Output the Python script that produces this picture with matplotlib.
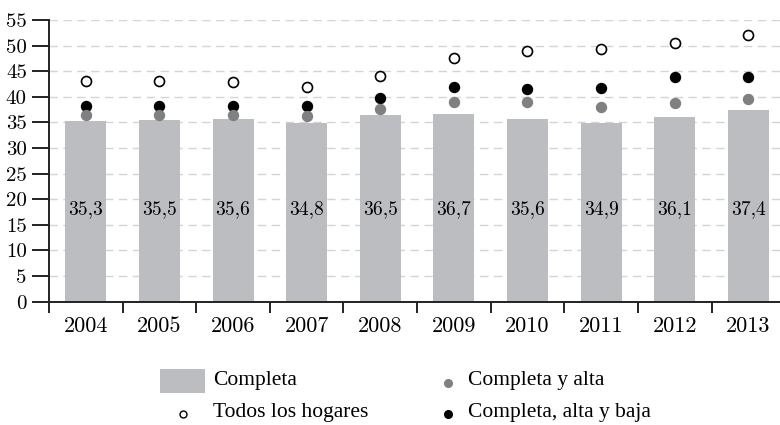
import matplotlib
matplotlib.use("Agg")
import matplotlib.pyplot as plt
from matplotlib.patches import Rectangle
from matplotlib.lines import Line2D

# --- data ---
years = ["2004", "2005", "2006", "2007", "2008", "2009", "2010", "2011", "2012", "2013"]
completa = [35.3, 35.5, 35.6, 34.8, 36.5, 36.7, 35.6, 34.9, 36.1, 37.4]
completa_alta = [36.4, 36.4, 36.4, 36.3, 37.6, 39.0, 38.9, 38.1, 38.7, 39.5]
completa_alta_baja = [38.2, 38.2, 38.2, 38.3, 39.7, 42.0, 41.5, 41.7, 43.9, 43.8]
todos_hogares = [43.1, 43.0, 42.9, 41.9, 44.0, 47.6, 48.9, 49.4, 50.6, 52.0]
yticks = list(range(0, 60, 5))

bar_color = "#bcbdc0"
dot_gray = "#808080"
tick_font = "cmr10"
legend_font = "Liberation Serif"

W, H = 780, 425
fig = plt.figure(figsize=(W / 100, H / 100), dpi=100)
ax = fig.add_axes([49 / W, (H - 301.7) / H, (W - 49) / W, (301.7 - 20) / H])

x = list(range(len(years)))
ax.bar(x, completa, width=0.557, color=bar_color, zorder=2)
ax.plot(x, completa_alta_baja, "o", color="black", markersize=7.2, zorder=3)
ax.plot(x, completa_alta, "o", color=dot_gray, markersize=7.2, zorder=4)
ax.plot(x, todos_hogares, "o", markerfacecolor="white", markeredgecolor="black",
        markeredgewidth=1.2, markersize=7.2, zorder=4)

for xi, v in zip(x, completa):
    ax.text(xi, 18, f"{v:.1f}".replace(".", ","), ha="center", va="center",
            fontsize=14, family=tick_font, zorder=5)

ax.set_xlim(-0.5, 9.43)
ax.set_ylim(0, 55)
ax.set_yticks(yticks)
ax.set_xticks([i - 0.5 for i in range(len(years))])
ax.set_xticklabels([])
ax.set_xticks(x, minor=True)
ax.set_xticklabels(years, minor=True, family=tick_font, fontsize=16)
ax.tick_params(axis="x", which="minor", length=0, pad=11)
ax.tick_params(axis="x", which="major", length=8, width=1.4, direction="out", color="#222222")
ax.tick_params(axis="y", length=12, width=1.4, direction="out", color="#222222", pad=4)
for lab in ax.get_yticklabels():
    lab.set_family(tick_font)
    lab.set_fontsize(15)

ax.grid(axis="y", color="#d4d4d4", linestyle=(0, (6, 4)), linewidth=1.0, zorder=0)
for s in ["top", "right"]:
    ax.spines[s].set_visible(False)
for s in ["left", "bottom"]:
    ax.spines[s].set_linewidth(1.4)
    ax.spines[s].set_color("#222222")

# --- legend drawn by hand in pixel positions ---
def fx(px):
    return px / W

def fy(py):
    return 1 - py / H

fig.add_artist(Rectangle((fx(160), fy(393)), fx(205) - fx(160), fy(369) - fy(393),
                         facecolor=bar_color, edgecolor="none", transform=fig.transFigure))
fig.add_artist(Line2D([fx(183)], [fy(414)], marker="o", markersize=5, markerfacecolor="white",
                      markeredgecolor="black", markeredgewidth=1.0, transform=fig.transFigure))
fig.add_artist(Line2D([fx(448)], [fy(383)], marker="o", markersize=5.5, color=dot_gray,
                      linestyle="none", transform=fig.transFigure))
fig.add_artist(Line2D([fx(448)], [fy(414)], marker="o", markersize=5.5, color="black",
                      linestyle="none", transform=fig.transFigure))

legend_items = [("Completa", 213, 381), ("Todos los hogares", 213, 413),
                ("Completa y alta", 468, 381), ("Completa, alta y baja", 468, 413)]
for txt, px, py in legend_items:
    fig.text(fx(px), fy(py), txt, ha="left", va="center", fontsize=15.5, family=legend_font)

fig.savefig("out.png", dpi=100)
